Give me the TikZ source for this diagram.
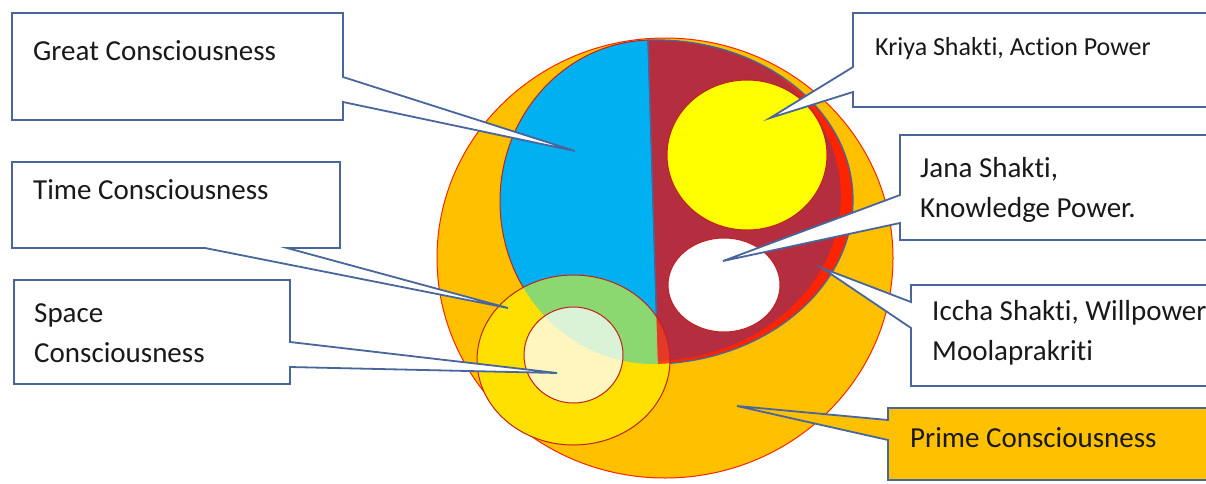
\documentclass[tikz,border=0pt]{standalone}
\usepackage{fontspec}
\setmainfont{Carlito}[Ligatures=NoCommon]
\definecolor{orangeC}{RGB}{255,192,0}
\definecolor{blueC}{RGB}{0,176,240}
\definecolor{maroonC}{RGB}{180,46,64}
\definecolor{redC}{RGB}{255,36,0}
\definecolor{yellowK}{RGB}{255,255,0}
\definecolor{yellowT}{RGB}{255,224,0}
\definecolor{greenC}{RGB}{140,216,112}
\definecolor{paleY}{RGB}{255,245,190}
\definecolor{paleG}{RGB}{218,242,214}
\definecolor{overR}{RGB}{228,56,40}
\definecolor{overRR}{RGB}{250,70,20}
\definecolor{edgeR}{RGB}{192,32,32}
\definecolor{cbline}{RGB}{72,102,156}
\definecolor{txt}{RGB}{25,25,25}
\begin{document}
\begin{tikzpicture}[x=1pt,y=-1pt,
  callbox/.style={fill=white,draw=cbline,line width=1.8pt,line join=miter},
  callorange/.style={fill=orangeC,draw=cbline,line width=1.8pt,line join=miter},
  lbl/.style={anchor=base west,inner sep=0pt,text=txt,align=left,font=\fontsize{29}{40}\selectfont},
  lbls/.style={lbl,font=\fontsize{26}{36}\selectfont},
  ring/.style={draw=edgeR,line width=1pt}]
\useasboundingbox (0,0) rectangle (1206,483);
\clip (0,0) rectangle (1206,483);
\fill[white] (0,0) rectangle (1206,483);
% big orange circle (Prime)
\filldraw[fill=orangeC,draw=redC,line width=1pt] (665,258) ellipse[x radius=228pt,y radius=220pt];
% blue half (Great), red and maroon half (Shaktis)
\begin{scope}[shift={(653,202)},rotate=1.76]
  \filldraw[fill=blueC,draw=edgeR,line width=1pt] (0,-162) arc[start angle=90,end angle=270,x radius=153pt,y radius=162pt] -- cycle;
  \fill[redC] (0,-162) arc[start angle=90,end angle=-90,x radius=200pt,y radius=162pt] -- cycle;
  \begin{scope}
    \clip (0,-162) arc[start angle=90,end angle=-90,x radius=200pt,y radius=162pt] -- cycle;
    \fill[maroonC] (0,-4) ellipse[x radius=188pt,y radius=163pt];
  \end{scope}
  \draw[cbline,line width=1.3pt] (0,-162) arc[start angle=90,end angle=-90,x radius=200pt,y radius=162pt] -- cycle;
\end{scope}
% Kriya yellow and Jana white circles
\filldraw[fill=yellowK,ring] (747,155) ellipse[x radius=80pt,y radius=75pt];
\filldraw[fill=white,ring] (724,285) ellipse[x radius=56pt,y radius=47pt];
% Time circle with overlaps
\fill[yellowT] (573.5,360) ellipse[x radius=96.5pt,y radius=85pt];
\begin{scope}
  \clip (573.5,360) ellipse[x radius=96.5pt,y radius=85pt];
  \begin{scope}[shift={(653,202)},rotate=1.76]
    \fill[greenC] (0,-162) arc[start angle=90,end angle=270,x radius=153pt,y radius=162pt] -- cycle;
    \fill[overRR] (0,-162) arc[start angle=90,end angle=-90,x radius=200pt,y radius=162pt] -- cycle;
    \clip (0,-162) arc[start angle=90,end angle=-90,x radius=200pt,y radius=162pt] -- cycle;
    \fill[overR] (0,-4) ellipse[x radius=188pt,y radius=163pt];
  \end{scope}
\end{scope}
% pale circle (Space)
\fill[paleY] (573.5,355) ellipse[x radius=49.5pt,y radius=48pt];
\begin{scope}
  \clip (573.5,355) ellipse[x radius=49.5pt,y radius=48pt];
  \begin{scope}[shift={(653,202)},rotate=1.76]
    \fill[paleG] (0,-162) arc[start angle=90,end angle=270,x radius=153pt,y radius=162pt] -- cycle;
  \end{scope}
\end{scope}
\draw[ring] (573.5,360) ellipse[x radius=96.5pt,y radius=85pt];
\draw[ring] (573.5,355) ellipse[x radius=49.5pt,y radius=48pt];
% pointer tips
\coordinate (tG) at (575,151);
\coordinate (tT) at (508,308);
\coordinate (tS) at (557,373);
\coordinate (tK) at (770,118);
\coordinate (tJ) at (723,261);
\coordinate (tI) at (822,268);
\coordinate (tP) at (737,406);
% callouts
\path[callbox] (12,13) -- (343,13) -- (343,77) -- (tG) -- (343,102) -- (343,120) -- (12,120) -- cycle;
\path[callbox] (12,162) -- (340,162) -- (340,248) -- (287,248) -- (tT) -- (205,248) -- (12,248) -- cycle;
\path[callbox] (14,280) -- (290,280) -- (290,342) -- (tS) -- (290,367) -- (290,384) -- (14,384) -- cycle;
\path[callbox] (853,13) -- (1215,13) -- (1215,107) -- (853,107) -- (853,92) -- (tK) -- (853,67) -- cycle;
\path[callbox] (900,135) -- (1215,135) -- (1215,240) -- (900,240) -- (900,223) -- (tJ) -- (900,195) -- cycle;
\path[callbox] (911,285) -- (1215,285) -- (1215,386) -- (911,386) -- (911,328) -- (tI) -- (911,302) -- cycle;
\path[callorange] (888,408) -- (1215,408) -- (1215,480) -- (888,480) -- (888,440) -- (tP) -- (888,420) -- cycle;
% labels
\node[lbl] (great) at (33,60) {Great Consciousness};
\node[lbl] (time) at (33,199) {Time Consciousness};
\node[lbl] (space) at (34,362) {Space\\Consciousness};
\node[lbls] (kriya) at (875,55) {Kriya Shakti, Action Power};
\node[lbl] (jana) at (920,217) {Jana Shakti,\\Knowledge Power.};
\node[lbl] (iccha) at (932,360) {Iccha Shakti, Willpower\\Moolaprakriti};
\node[lbl] (prime) at (910,447) {Prime Consciousness};
\end{tikzpicture}
\end{document}
